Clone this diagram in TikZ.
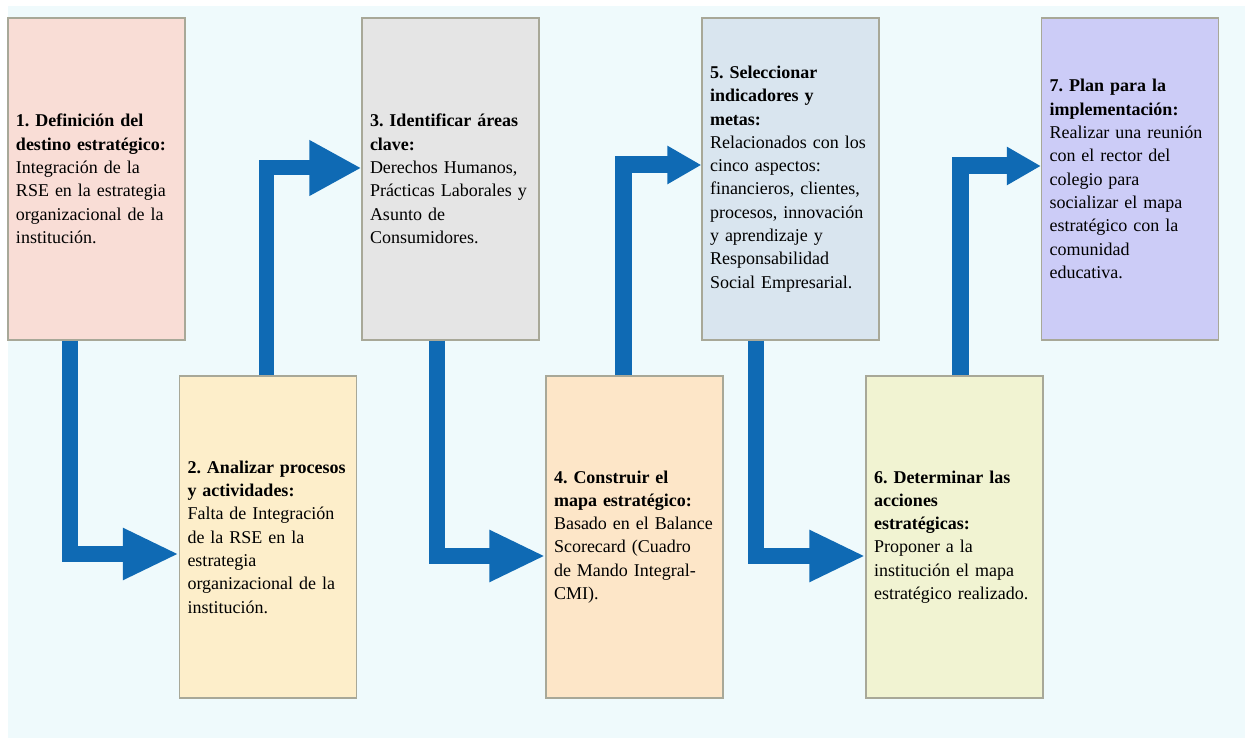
\documentclass[tikz,border=0pt]{standalone}
\usepackage{fontspec}
\setmainfont{Liberation Serif}
\usetikzlibrary{arrows.meta}

\definecolor{bgcyan}{HTML}{EFFAFC}
\definecolor{boxedge}{HTML}{A8A898}
\definecolor{arrowblue}{HTML}{0F6AB4}
\definecolor{pinkbox}{HTML}{F9DDD6}
\definecolor{creambox}{HTML}{FDEECA}
\definecolor{graybox}{HTML}{E5E5E5}
\definecolor{peachbox}{HTML}{FDE6C8}
\definecolor{bluebox}{HTML}{D9E5EF}
\definecolor{limebox}{HTML}{F1F3D2}
\definecolor{lilacbox}{HTML}{CCCCF7}

\newcommand{\stepfont}{\fontsize{18}{23.3}\selectfont\frenchspacing\hyphenpenalty=10000\relax}

\tikzset{
  stepbox/.style={draw=boxedge, line width=1.2pt, minimum width=177pt, minimum height=322pt,
    text width=161pt, inner xsep=8pt, align=left, font=\stepfont},
  downarrow/.style={arrowblue, line width=16pt, -{Triangle[length=56pt,width=48pt]}},
  uparrow/.style={arrowblue, line width=17pt, -{Triangle[length=34pt,width=36pt]}},
}

\begin{document}
\begin{tikzpicture}[x=1pt,y=1pt]
\useasboundingbox (0,0) rectangle (1245,738);
% Background
\fill[bgcyan] (8,0) rectangle (1245,732);

% Steps
\node[stepbox, fill=pinkbox] (b1) at (96.5,559) {\textbf{1. Definición del}\\\textbf{destino estratégico:}\\Integración de la\\RSE en la estrategia\\organizacional de la\\institución.};
\node[stepbox, fill=creambox] (b2) at (268,201) {\textbf{2. Analizar procesos}\\\textbf{y actividades:}\\Falta de Integración\\de la RSE en la\\estrategia\\organizacional de la\\institución.};
\node[stepbox, fill=graybox] (b3) at (450.5,559) {\textbf{3. Identificar áreas}\\\textbf{clave:}\\Derechos Humanos,\\Prácticas Laborales y\\Asunto de\\Consumidores.};
\node[stepbox, fill=peachbox] (b4) at (634.5,201) {\textbf{4. Construir el}\\\textbf{mapa estratégico:}\\Basado en el Balance\\Scorecard (Cuadro\\de Mando Integral-\\CMI).};
\node[stepbox, fill=bluebox] (b5) at (790.5,559) {\textbf{5. Seleccionar}\\\textbf{indicadores y}\\\textbf{metas:}\\Relacionados con los\\cinco aspectos:\\financieros, clientes,\\procesos, innovación\\y aprendizaje y\\Responsabilidad\\Social Empresarial.};
\node[stepbox, fill=limebox] (b6) at (954.5,201) {\textbf{6. Determinar las}\\\textbf{acciones}\\\textbf{estratégicas:}\\Proponer a la\\institución el mapa\\estratégico realizado.};
\node[stepbox, fill=lilacbox] (b7) at (1130,559) {\textbf{7. Plan para la}\\\textbf{implementación:}\\Realizar una reunión\\con el rector del\\colegio para\\socializar el mapa\\estratégico con la\\comunidad\\educativa.};

% Arrows down
\foreach \a/\b/\dx/\dy in {b1/b2/-26.5/-17, b3/b4/-13.5/-19, b5/b6/-34.5/-19}{
  \draw[downarrow] ([xshift=\dx pt]\a.south) |- ([yshift=\dy pt]\b.west);
}
% Arrows up
\draw[downarrow, -{Triangle[length=52pt,width=52pt]}, line width=15pt] ([xshift=-2pt]b2.north) |- ([yshift=11pt]b3.west);
\foreach \a/\b/\dx/\dy in {b4/b5/-11.5/14, b6/b7/5.5/13}{
  \draw[uparrow] ([xshift=\dx pt]\a.north) |- ([yshift=\dy pt]\b.west);
}

\end{tikzpicture}
\end{document}
